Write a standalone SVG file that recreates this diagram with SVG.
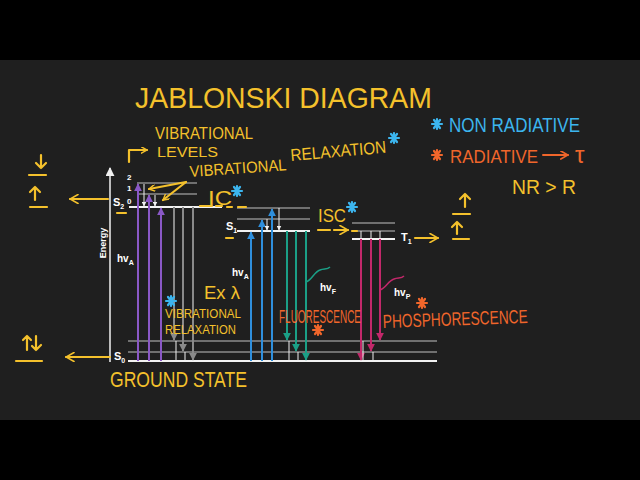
<svg xmlns="http://www.w3.org/2000/svg" width="640" height="480" viewBox="0 0 640 480">
<defs>
<style>
.hw{font-family:"Liberation Sans","DejaVu Sans",sans-serif;fill:#f4c12c}
.y{fill:#f4c12c}.b{fill:#3cb5ee}.o{fill:#f0662b}
.lab{font-family:"Liberation Sans","DejaVu Sans",sans-serif;fill:#ffffff;font-weight:bold}
.gl{stroke:#8c8c8c;stroke-width:1.5}
.wl{stroke:#f2f2f2;stroke-width:2}
.yl{stroke:#f4c12c;stroke-width:2.2;fill:none;stroke-linecap:round;stroke-linejoin:round}
.pu{stroke:#8a58c6;stroke-width:2;marker-end:url(#mp)}
.bl{stroke:#2f8fdc;stroke-width:2;marker-end:url(#mb)}
.gr{stroke:#1b9f86;stroke-width:2;marker-end:url(#mg)}
.mg{stroke:#c2286a;stroke-width:2;marker-end:url(#mm)}
.gy{stroke:#8a8a8a;stroke-width:2;marker-end:url(#mgy)}
.wa{stroke:#f0f0f0;stroke-width:1;marker-end:url(#mw)}
.tk{stroke:#f0f0f0;stroke-width:1}
</style>
<marker id="mp" viewBox="0 0 10 10" refX="9" refY="5" markerWidth="4" markerHeight="4" orient="auto"><path d="M0,0L10,5L0,10z" fill="#8a58c6"/></marker>
<marker id="mb" viewBox="0 0 10 10" refX="9" refY="5" markerWidth="4" markerHeight="4" orient="auto"><path d="M0,0L10,5L0,10z" fill="#2f8fdc"/></marker>
<marker id="mg" viewBox="0 0 10 10" refX="9" refY="5" markerWidth="4" markerHeight="4" orient="auto"><path d="M0,0L10,5L0,10z" fill="#1b9f86"/></marker>
<marker id="mm" viewBox="0 0 10 10" refX="9" refY="5" markerWidth="4" markerHeight="4" orient="auto"><path d="M0,0L10,5L0,10z" fill="#c2286a"/></marker>
<marker id="mgy" viewBox="0 0 10 10" refX="9" refY="5" markerWidth="4" markerHeight="4" orient="auto"><path d="M0,0L10,5L0,10z" fill="#8a8a8a"/></marker>
<marker id="mw" viewBox="0 0 10 10" refX="9" refY="5" markerWidth="5" markerHeight="5" orient="auto"><path d="M0,0L10,5L0,10z" fill="#f0f0f0"/></marker>
<marker id="mwa" viewBox="0 0 10 10" refX="9" refY="5" markerWidth="6" markerHeight="6" orient="auto"><path d="M0,0L10,5L0,10z" fill="#f0f0f0"/></marker>
<marker id="my" viewBox="0 0 10 10" refX="9" refY="5" markerWidth="7" markerHeight="7" markerUnits="userSpaceOnUse" orient="auto"><path d="M1,0.5L9,5L1,9.5" fill="none" stroke="#f4c12c" stroke-width="2" stroke-linecap="round"/></marker>
<marker id="myb" viewBox="0 0 10 10" refX="9" refY="5" markerWidth="10" markerHeight="10" markerUnits="userSpaceOnUse" orient="auto"><path d="M1,0.5L9,5L1,9.5" fill="none" stroke="#f4c12c" stroke-width="1.6" stroke-linecap="round"/></marker>
<marker id="mo" viewBox="0 0 10 10" refX="9" refY="5" markerWidth="9" markerHeight="9" markerUnits="userSpaceOnUse" orient="auto"><path d="M1,0.5L9,5L1,9.5" fill="none" stroke="#f0662b" stroke-width="1.8" stroke-linecap="round"/></marker>
<g id="ast"><path d="M-5,0H5M-3,-4L3,4M3,-4L-3,4M0,-5V5" stroke-width="2.2" stroke-linecap="round" fill="none"/></g>
</defs>

<rect x="0" y="0" width="640" height="480" fill="#000"/>
<rect x="0" y="60" width="640" height="360" fill="#1f1f1f"/>

<g id="title"><text class="hw" x="135" y="108" font-size="30" textLength="297" lengthAdjust="spacingAndGlyphs">JABLONSKI DIAGRAM</text></g>

<g id="axis">
<line x1="110" y1="362" x2="110" y2="168" stroke="#f2f2f2" stroke-width="1.5" marker-end="url(#mwa)"/>
<text class="lab" font-size="9" transform="translate(106,243) rotate(-90)" text-anchor="middle">Energy</text>
</g>

<g id="S2">
<line class="gl" x1="137" y1="183" x2="197" y2="183"/>
<line class="gl" x1="137" y1="194" x2="197" y2="194"/>
<line class="wl" x1="129" y1="207" x2="222" y2="207"/>
<text class="lab" font-size="8" x="127" y="180">2</text>
<text class="lab" font-size="8" x="127" y="191">1</text>
<text class="lab" font-size="8" x="127" y="204">0</text>
<text class="lab" font-size="11" x="113" y="206">S<tspan font-size="7" dy="3">2</tspan></text>
</g>

<g id="S1">
<line class="gl" x1="237" y1="208" x2="310" y2="208"/>
<line class="gl" x1="237" y1="219" x2="310" y2="219"/>
<line class="wl" x1="237" y1="231" x2="310" y2="231"/>
<text class="lab" font-size="11" x="226" y="230">S<tspan font-size="7" dy="3">1</tspan></text>
</g>

<g id="T1">
<line class="gl" x1="352" y1="223" x2="395" y2="223"/>
<line class="gl" x1="352" y1="231" x2="395" y2="231"/>
<line class="wl" x1="352" y1="239" x2="395" y2="239"/>
<text class="lab" font-size="11" x="401" y="241">T<tspan font-size="7" dy="3">1</tspan></text>
</g>

<g id="S0">
<line class="gl" x1="128" y1="341" x2="437" y2="341"/>
<line class="gl" x1="128" y1="352" x2="437" y2="352"/>
<line class="wl" x1="128" y1="361" x2="437" y2="361"/>
<text class="lab" font-size="11" x="114" y="360">S<tspan font-size="7" dy="3">0</tspan></text>
</g>

<g id="connectors">
<line class="pu" x1="138" y1="361" x2="138" y2="184"/>
<line class="pu" x1="149" y1="361" x2="149" y2="195"/>
<line class="pu" x1="161" y1="361" x2="161" y2="208"/>
<line class="wa" x1="144" y1="184" x2="144" y2="206"/>
<line class="wa" x1="155" y1="195" x2="155" y2="206"/>
<line class="gy" x1="174" y1="207" x2="174" y2="340"/>
<line class="gy" x1="183" y1="207" x2="183" y2="351"/>
<line class="gy" x1="193" y1="207" x2="193" y2="360"/>
<line class="tk" x1="176" y1="341" x2="176" y2="361"/>
<line class="tk" x1="185" y1="352" x2="185" y2="361"/>
<line class="bl" x1="251" y1="361" x2="251" y2="232"/>
<line class="bl" x1="262" y1="361" x2="262" y2="220"/>
<line class="bl" x1="272" y1="361" x2="272" y2="209"/>
<line class="wa" x1="267" y1="219" x2="267" y2="230"/>
<line class="wa" x1="279" y1="208" x2="279" y2="230"/>
<line class="gr" x1="287" y1="231" x2="287" y2="340"/>
<line class="gr" x1="296" y1="231" x2="296" y2="351"/>
<line class="gr" x1="306" y1="231" x2="306" y2="360"/>
<line class="tk" x1="289" y1="341" x2="289" y2="361"/>
<line class="tk" x1="298" y1="352" x2="298" y2="361"/>
<line class="tk" x1="361" y1="231" x2="361" y2="239"/>
<line class="tk" x1="371" y1="231" x2="371" y2="239"/>
<line class="tk" x1="380" y1="231" x2="380" y2="239"/>
<line class="mg" x1="361" y1="239" x2="361" y2="360"/>
<line class="mg" x1="371" y1="239" x2="371" y2="351"/>
<line class="mg" x1="380" y1="239" x2="380" y2="340"/>
<line class="tk" x1="363" y1="341" x2="363" y2="361"/>
<line class="tk" x1="373" y1="352" x2="373" y2="361"/>
<path d="M306,282 C312,280 314,272 320,270 C324,268 327,270 330,267" fill="none" stroke="#1b9f86" stroke-width="1.5"/>
<path d="M380,290 C386,288 388,281 394,279 C398,277 401,279 404,276" fill="none" stroke="#c2286a" stroke-width="1.5"/>
<path class="yl" d="M129,162 V150 H147" marker-end="url(#my)"/>
<line class="yl" x1="186" y1="182" x2="149" y2="189" marker-end="url(#my)"/>
<line class="yl" x1="186" y1="182" x2="163" y2="200" marker-end="url(#my)"/>
<path class="yl" d="M200,206 H212 M216,206 H222 M227,207 H232 M238,207 H246" stroke-width="1.8"/>
<path class="yl" d="M318,230 H330 M334,230 H346" stroke-width="1.8"/>
<line class="yl" x1="340" y1="230" x2="348" y2="230" marker-end="url(#myb)"/>
<line class="yl" x1="352" y1="231" x2="357" y2="231" stroke-width="1.8"/>
<line class="yl" x1="108" y1="199" x2="70" y2="199" marker-end="url(#myb)"/>
<line class="yl" x1="110" y1="357" x2="66" y2="357" marker-end="url(#myb)"/>
<line class="yl" x1="415" y1="238" x2="438" y2="238" marker-end="url(#myb)"/>
<line class="yl" x1="117" y1="213" x2="126" y2="213"/>
<line class="yl" x1="226" y1="238" x2="233" y2="238"/>
</g>

<g id="spin-left">
<path class="yl" d="M41,155 V168 M36,163 L41,168 L46,163"/>
<line class="yl" x1="29" y1="175" x2="46" y2="175"/>
<path class="yl" d="M35,200 V187 M30,192 L35,187 L40,192"/>
<line class="yl" x1="30" y1="207" x2="47" y2="207"/>
<path class="yl" d="M27,350 V336 M23,340 L27,336 L31,340 M36,336 V350 M32,346 L36,350 L41,345"/>
<line class="yl" x1="16" y1="361" x2="42" y2="361"/>
</g>

<g id="spin-right">
<path class="yl" d="M465,207 V194 M460,199 L465,194 L470,199"/>
<line class="yl" x1="453" y1="214" x2="470" y2="214"/>
<path class="yl" d="M457,234 V222 M452,227 L457,222 L462,227"/>
<line class="yl" x1="453" y1="239" x2="469" y2="239"/>
</g>

<g id="labels">
<text class="lab" font-size="10" x="117" y="262">hv<tspan font-size="7" dy="3">A</tspan></text>
<text class="lab" font-size="10" x="232" y="276">hv<tspan font-size="7" dy="3">A</tspan></text>
<text class="lab" font-size="10" x="320" y="291">hv<tspan font-size="7" dy="3">F</tspan></text>
<text class="lab" font-size="10" x="394" y="296">hv<tspan font-size="7" dy="3">P</tspan></text>
</g>

<g id="annotations">
<text class="hw" x="155" y="139" font-size="16" textLength="98" lengthAdjust="spacingAndGlyphs">VIBRATIONAL</text>
<text class="hw" x="157" y="157" font-size="15" textLength="61" lengthAdjust="spacingAndGlyphs">LEVELS</text>
<text class="hw" x="190" y="177" font-size="16" textLength="97" lengthAdjust="spacingAndGlyphs" transform="rotate(-4 190 177)">VIBRATIONAL</text>
<text class="hw" x="291" y="161" font-size="17" textLength="96" lengthAdjust="spacingAndGlyphs" transform="rotate(-5 291 161)">RELAXATION</text>
<use href="#ast" x="394" y="138" stroke="#3cb5ee"/>
<text class="hw" x="208" y="205" font-size="20" textLength="24" lengthAdjust="spacingAndGlyphs">IC</text>
<use href="#ast" x="237" y="191" stroke="#3cb5ee"/>
<text class="hw" x="318" y="222" font-size="19" textLength="28" lengthAdjust="spacingAndGlyphs">ISC</text>
<use href="#ast" x="352" y="207" stroke="#3cb5ee"/>
<text class="hw" x="204" y="299" font-size="18" textLength="36" lengthAdjust="spacingAndGlyphs">Ex λ</text>
<use href="#ast" x="171" y="301" stroke="#3cb5ee"/>
<text class="hw" x="165" y="318" font-size="13" textLength="76" lengthAdjust="spacingAndGlyphs">VIBRATIONAL</text>
<text class="hw" x="165" y="334" font-size="13" textLength="71" lengthAdjust="spacingAndGlyphs">RELAXATION</text>
<text class="hw o" x="279" y="323" font-size="18" textLength="82" lengthAdjust="spacingAndGlyphs">FLUORESCENCE</text>
<use href="#ast" x="318" y="330" stroke="#f0662b"/>
<text class="hw o" x="383" y="328" font-size="19" textLength="145" lengthAdjust="spacingAndGlyphs" transform="rotate(-2 383 328)">PHOSPHORESCENCE</text>
<use href="#ast" x="422" y="303" stroke="#f0662b"/>
<text class="hw" x="110" y="387" font-size="22" textLength="137" lengthAdjust="spacingAndGlyphs">GROUND STATE</text>
</g>

<g id="legend">
<use href="#ast" x="437" y="124" stroke="#3cb5ee"/>
<text class="hw b" x="449" y="132" font-size="20" textLength="131" lengthAdjust="spacingAndGlyphs">NON RADIATIVE</text>
<use href="#ast" x="437" y="155" stroke="#f0662b"/>
<text class="hw o" x="450" y="163" font-size="19" textLength="88" lengthAdjust="spacingAndGlyphs">RADIATIVE</text>
<line x1="543" y1="155" x2="568" y2="155" stroke="#f0662b" stroke-width="2" stroke-linecap="round" marker-end="url(#mo)"/>
<text class="hw o" x="575" y="163" font-size="24">τ</text>
<text class="hw" x="512" y="194" font-size="20" textLength="64" lengthAdjust="spacingAndGlyphs">NR &gt; R</text>
</g>
</svg>
